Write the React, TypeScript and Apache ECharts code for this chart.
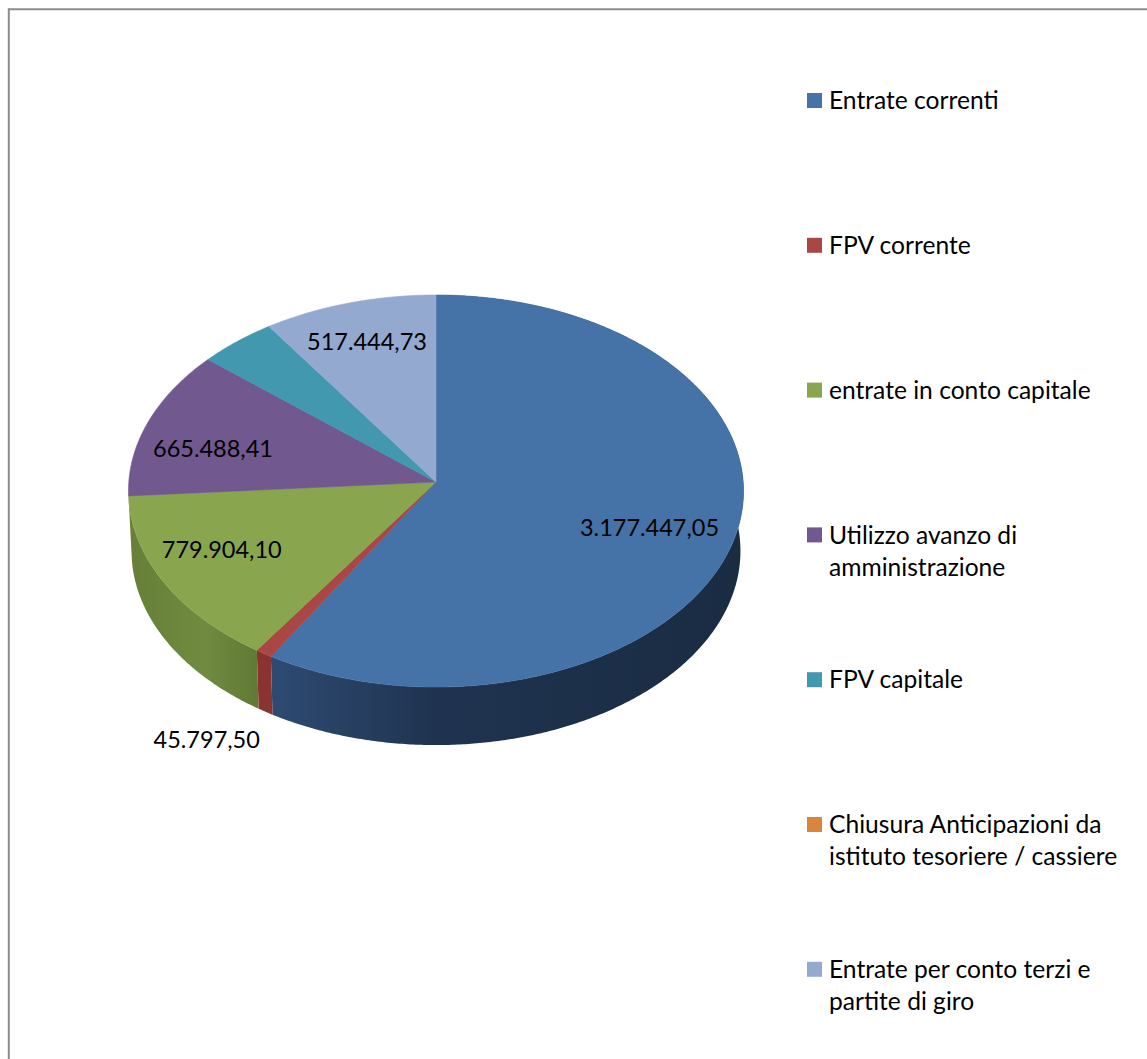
import React, { useEffect, useRef } from "react";
import * as echarts from "echarts";

const categories = [
  "Entrate correnti",
  "FPV corrente",
  "entrate in conto capitale",
  "Utilizzo avanzo di\namministrazione",
  "FPV capitale",
  "Chiusura Anticipazioni da\nistituto tesoriere / cassiere",
  "Entrate per conto terzi e\npartite di giro",
];
const values = [3177447.05, 45797.5, 779904.1, 665488.41, 233000, 0, 517444.73];
const valueLabels = ["3.177.447,05", "45.797,50", "779.904,10", "665.488,41", "", "", "517.444,73"];
const colors = ["#4572A7", "#AA4643", "#89A54E", "#71588F", "#4198AF", "#DB843D", "#93A9CF"];

const sideStops: any[] = [
  [[0, "#2E4B72"], [0.35, "#1F3350"], [1, "#1A2C42"]],
  [[0, "#8A3331"], [1, "#8A3331"]],
  [[0, "#677F38"], [0.6, "#708B40"], [1, "#617935"]],
  null,
  null,
  null,
  null,
];

const labelAnchors = [
  [649.5, 527],
  [206.7, 739],
  [221.7, 549],
  [213, 448],
  [0, 0],
  [0, 0],
  [367, 341],
];

const FONT = "Lato";
const total = values.reduce((a, b) => a + b, 0);
const CX = 436;
const CY = 482;
const A = 307.2;
const B = 195.6;
const K = 0.046;
const DEPTH = 60;
const SHRINK = 0.99;
const LEGEND_TOP = 100.5;
const LEGEND_STEP = 144.8;

function project(theta: number, lower: boolean) {
  const u = Math.sin(theta);
  const v = -Math.cos(theta);
  const d = 1 - K * v;
  const x = (A * u) / d;
  const y = (B * v) / d;
  if (!lower) return [CX + x, CY + y];
  return [CX + x * SHRINK, CY + 9 + (y - 9) * SHRINK + DEPTH];
}

function rim(t0: number, t1: number, lower: boolean) {
  const pts: number[][] = [];
  const n = Math.max(2, Math.ceil(((t1 - t0) * 180) / Math.PI / 0.5));
  for (let i = 0; i <= n; i++) pts.push(project(t0 + ((t1 - t0) * i) / n, lower));
  return pts;
}

const rows = (() => {
  let acc = 0;
  return values.map((v, i) => {
    const start = (acc / total) * Math.PI * 2;
    acc += v;
    return [i, start, (acc / total) * Math.PI * 2];
  });
})();

function renderSide(_p: any, api: any) {
  const i = api.value(0);
  const t0 = api.value(1);
  const t1 = api.value(2);
  if (t1 <= t0 || !sideStops[i]) return { type: "group", children: [] };
  const top = rim(t0, t1, false);
  const bottom = rim(t0, t1, true).reverse();
  const pts = top.concat(bottom);
  const xs = top.map((p) => p[0]);
  const x0 = Math.min(...xs);
  const x1 = Math.max(...xs);
  const fill = new echarts.graphic.LinearGradient(
    x0, 0, x1, 0,
    sideStops[i].map(([offset, color]: any) => ({ offset, color })),
    true,
  );
  return {
    type: "polygon",
    shape: { points: pts },
    style: { fill, lineWidth: 0 },
  };
}

function renderTop(_p: any, api: any) {
  const i = api.value(0);
  const t0 = api.value(1);
  const t1 = api.value(2);
  if (t1 <= t0) return { type: "group", children: [] };
  const pts = [[CX, CY] as number[]].concat(rim(t0, t1, false));
  return {
    type: "polygon",
    shape: { points: pts },
    style: { fill: colors[i], stroke: colors[i], lineWidth: 0.6 },
  };
}

function legendGraphics() {
  const out: any[] = [
    { type: "line", shape: { x1: 8.8, y1: 9.3, x2: 1147, y2: 9.3 }, style: { stroke: "#8C8C8C", lineWidth: 2 }, silent: true },
    { type: "line", shape: { x1: 8.8, y1: 8.3, x2: 8.8, y2: 1059 }, style: { stroke: "#8C8C8C", lineWidth: 2 }, silent: true },
  ];
  categories.forEach((c, i) => {
    const y = LEGEND_TOP + LEGEND_STEP * i;
    out.push({ type: "rect", shape: { x: 807, y: y - 7.5, width: 15, height: 15 }, style: { fill: colors[i] } });
    out.push({
      type: "text",
      x: 829,
      y: y - 17,
      style: { text: c, fill: "#000", font: `24.6px ${FONT}`, lineHeight: 32.3, textVerticalAlign: "top" },
    });
  });
  labelAnchors.forEach(([x, y], i) => {
    if (!valueLabels[i]) return;
    out.push({
      type: "text",
      x,
      y,
      z: 50,
      style: { text: valueLabels[i], fill: "#000", font: `23.5px ${FONT}`, textAlign: "center", textVerticalAlign: "middle" },
    });
  });
  return out;
}

export default function App() {
  const ref = useRef<HTMLDivElement>(null);
  useEffect(() => {
    document.body.style.margin = "0";
    const chart = echarts.init(ref.current!, undefined, { renderer: "svg" });
    chart.setOption({
      animation: false,
      backgroundColor: "#fff",
      xAxis: { show: false, min: 0, max: 1 },
      yAxis: { show: false, min: 0, max: 1 },
      grid: { left: 0, right: 0, top: 0, bottom: 0 },
      graphic: { elements: legendGraphics() },
      series: [
        { type: "custom", coordinateSystem: "none", z: 1, silent: true, data: rows, renderItem: renderSide },
        { type: "custom", coordinateSystem: "none", z: 2, silent: true, data: rows, renderItem: renderTop },
      ],
    });
    return () => chart.dispose();
  }, []);
  return <div ref={ref} style={{ width: 1147, height: 1059 }} />;
}
